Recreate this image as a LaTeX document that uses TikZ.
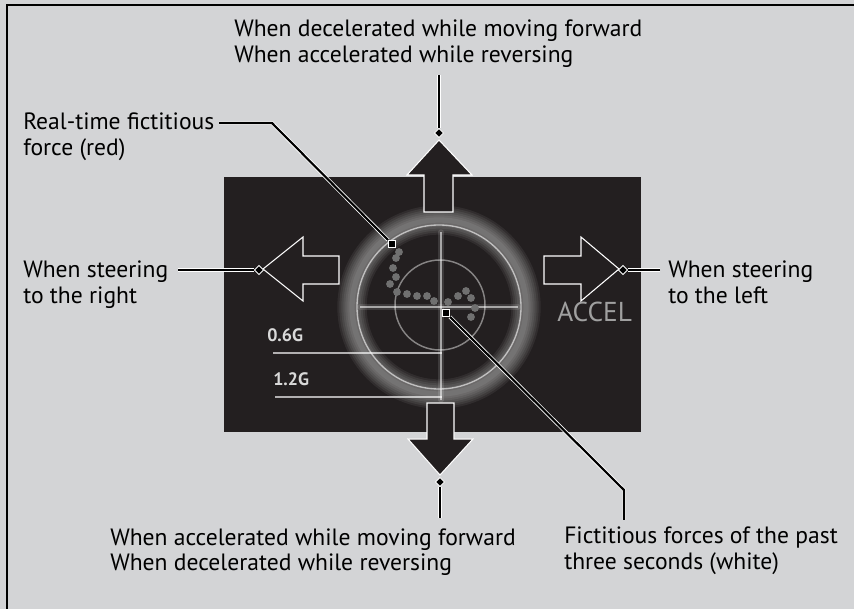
\documentclass[tikz,border=0pt]{standalone}
\usepackage{fontspec}
\setmainfont{PT Sans}
\usetikzlibrary{shapes.geometric}
\definecolor{bg}{HTML}{D3D4D6}
\definecolor{scr}{HTML}{231F20}
\definecolor{dotc}{HTML}{707070}
\definecolor{accelc}{HTML}{A0A0A0}
\begin{document}
\begin{tikzpicture}[x=0.75pt,y=-0.75pt,
  lbl/.style={font=\fontsize{17.7}{19.5}\selectfont, align=left, anchor=base west, inner sep=0pt, text=black},
  conn/.style={draw=white, double=black, line width=0.6pt, double distance=1.6pt},
  bigarrow/.style={fill=scr, draw=white, line width=0.8pt, line join=miter},
  diam/.style={diamond, fill=black, draw=white, line width=0.6pt, inner sep=0pt, minimum size=7pt},
  sq/.style={rectangle, fill=black, draw=white, line width=0.8pt, inner sep=0pt, minimum size=5.2pt},
  glow/.style={white, line cap=round},
  gtext/.style={font=\bfseries\fontsize{13.5}{14}\selectfont, text=white!85!black, anchor=base west, inner sep=0pt}
]
\useasboundingbox (0,0) rectangle (854,609);
% background and frame
\fill[bg] (0,0) rectangle (854,609);
\draw[black, line width=0.9pt] (7,609) -- (7,5) -- (854,5);
% screen
\fill[scr] (224,177) rectangle (641,432);
% soft glow ring
\coordinate (ctr) at (439,307);
\foreach \w in {22,19,16,13,10,7,4}
  \draw[glow, opacity=0.065, line width=\w pt] (ctr) circle[radius=87];
\draw[glow, opacity=0.6, line width=1pt] (ctr) circle[radius=82];
% inner circle
\draw[white, opacity=0.45, line width=1.1pt] (440,305) circle[radius=45];
% crosshair
\draw[glow, opacity=0.12, line width=4pt] (441,232) -- (441,400);
\draw[glow, opacity=0.12, line width=4pt] (360,307) -- (518,307);
\draw[white, opacity=0.55, line width=1.1pt] (441,232) -- (441,400);
\draw[white, opacity=0.55, line width=1.1pt] (360,307) -- (518,307);
% G scale lines
\draw[white, opacity=0.65, line width=1pt] (273,353) -- (442,353);
\draw[white, opacity=0.65, line width=1pt] (275,397) -- (442,397);
\node[gtext] (g06) at (267,342) {0.6G};
\node[gtext] (g12) at (273,386) {1.2G};
% ACCEL
\node[font=\fontsize{20.5}{21}\selectfont, text=accelc, anchor=base west, inner sep=0pt] (accel) at (557,322) {ACCEL};
% trail of dots
\foreach \px/\py in {399/252,396/258,393/268,396/277,390/284,397/292,407/294,417/296,427/296,434/301,448/302,458/296,466/291,471/298,475/308,471/317}
  \fill[dotc] (\px,\py) circle[radius=3.9];
% big arrows
\draw[bigarrow] (424,212) -- (424,175) -- (407,175) -- (439,140) -- (472,175) -- (453,175) -- (453,212) -- cycle;
\draw[bigarrow] (427,403) -- (427,439) -- (408,439) -- (440,475) -- (473,439) -- (454,439) -- (454,403) -- cycle;
\draw[bigarrow] (263,269) -- (303,237) -- (303,256) -- (339,256) -- (339,284) -- (303,284) -- (303,301) -- cycle;
\draw[bigarrow] (619,269) -- (581,237) -- (581,256) -- (544,256) -- (544,284) -- (581,284) -- (581,301) -- cycle;
% labels (anchor = baseline of the last line)
\node[lbl] (ltop) at (234,63) {When decelerated while moving forward\\When accelerated while reversing};
\node[lbl] (lrt) at (23,156) {Real-time fictitious\\force (red)};
\node[lbl] (lright) at (23,304) {When steering\\to the right};
\node[lbl] (lleft) at (668,304) {When steering\\to the left};
\node[lbl] (lbot) at (110,571) {When accelerated while moving forward\\When decelerated while reversing};
\node[lbl] (lff) at (564,570) {Fictitious forces of the past\\three seconds (white)};
% markers
\node[diam] (dU) at (439,133) {};
\node[diam] (dD) at (440,482) {};
\node[diam] (dL) at (259,270) {};
\node[diam] (dR) at (623,270) {};
\node[sq] (sqA) at (392,244) {};
\node[sq] (sqB) at (446,313) {};
% connector end points
\coordinate (tU) at (439,75);
\coordinate (tD) at (440,518);
\coordinate (tL) at (178,270);
\coordinate (tR) at (660,270);
\coordinate (rtA) at (219,123);
\coordinate (rtB) at (272,123);
\coordinate (ffB) at (624,490);
\coordinate (ffA) at (624,520);
% connectors
\draw[conn] (tU) -- (dU);
\draw[conn] (tD) -- (dD);
\draw[conn] (tL) -- (dL);
\draw[conn] (tR) -- (dR);
\draw[conn] (rtA) -- (rtB) -- (sqA);
\draw[conn] (sqB) -- (ffB) -- (ffA);
\end{tikzpicture}
\end{document}
